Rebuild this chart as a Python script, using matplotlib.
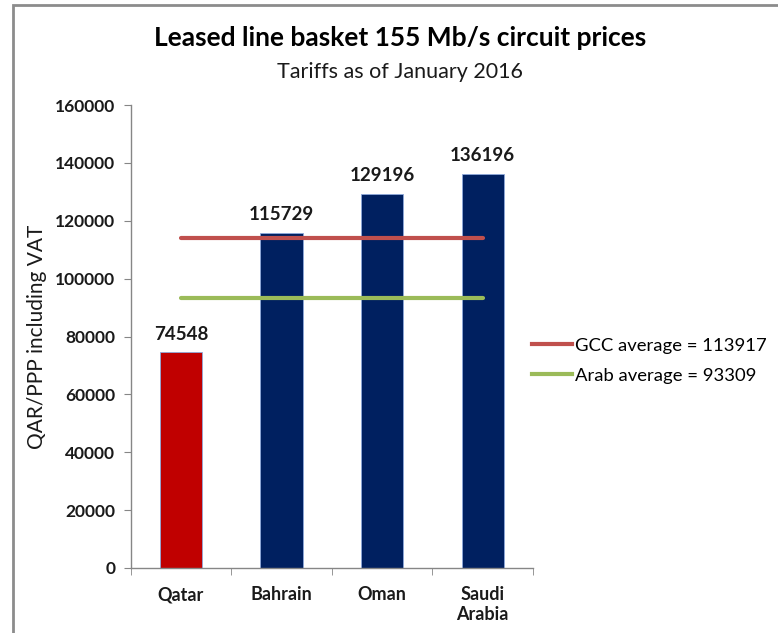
import matplotlib
matplotlib.use("Agg")
import matplotlib.pyplot as plt
from matplotlib.lines import Line2D
from matplotlib.patches import Rectangle
import numpy as np

countries = ["Qatar", "Bahrain", "Oman", "Saudi\nArabia"]
prices = [74548, 115729, 129196, 136196]
bar_colors = ["#C00000", "#002060", "#002060", "#002060"]
gcc_average = 113917
arab_average = 93309
yticks = [0, 20000, 40000, 60000, 80000, 100000, 120000, 140000, 160000]

plt.rcParams["font.family"] = ["Lato", "DejaVu Sans"]

fig = plt.figure(figsize=(7.78, 6.33), dpi=100)
ax = fig.add_axes([0.168, 0.1027, 0.517, 0.7313])

x = np.arange(len(countries))
ax.bar(x, prices, width=0.42, color=bar_colors, edgecolor="#8EA9DB", linewidth=0.6, zorder=2)
for xi, v in zip(x, prices):
    ax.annotate(str(v), (xi, v), xytext=(0, 7), textcoords="offset points",
                ha="center", va="bottom", fontsize=13.5, fontweight="bold", color="#1a1a1a")

ax.plot([x[0], x[-1]], [gcc_average] * 2, color="#C0504D", linewidth=3,
        solid_capstyle="round", zorder=3)
ax.plot([x[0], x[-1]], [arab_average] * 2, color="#9BBB59", linewidth=3,
        solid_capstyle="round", zorder=3)

ax.set_xlim(-0.5, len(countries) - 0.5)
ax.set_ylim(0, 160000)
ax.set_yticks(yticks)
ax.set_yticklabels([str(t) for t in yticks], fontsize=12.5, fontweight="bold", color="#1a1a1a")
ax.set_xticks(x)
ax.set_xticklabels(countries, fontsize=13, fontweight="bold", color="#1a1a1a")
ax.set_xticks(np.arange(-0.5, len(countries)), minor=True)
ax.tick_params(axis="x", which="major", length=0, pad=13)
ax.tick_params(axis="x", which="minor", length=5, color="#868686", direction="out")
ax.tick_params(axis="y", length=5, color="#868686", direction="out", pad=6)

for side in ["top", "right"]:
    ax.spines[side].set_visible(False)
for side in ["left", "bottom"]:
    ax.spines[side].set_color("#868686")
    ax.spines[side].set_linewidth(1)

ax.set_ylabel("QAR/PPP including VAT", fontsize=15, color="#1a1a1a", labelpad=6)

fig.text(0.514, 0.94, "Leased line basket 155 Mb/s circuit prices", ha="center", va="center",
         fontsize=19, fontweight="bold", color="#000000")
fig.text(0.514, 0.886, "Tariffs as of January 2016", ha="center", va="center",
         fontsize=15.5, color="#1a1a1a")

handles = [Line2D([], [], color="#C0504D", linewidth=3),
           Line2D([], [], color="#9BBB59", linewidth=3)]
fig.legend(handles, [f"GCC average = {gcc_average}", f"Arab average = {arab_average}"],
           loc="center left", bbox_to_anchor=(0.662, 0.43), frameon=False,
           fontsize=13.3, handlelength=2.2, handletextpad=0.15, labelspacing=0.75)

fig.patches.append(Rectangle((13 / 778, -0.1), 1.2, 1 - 5 / 633 + 0.1, transform=fig.transFigure,
                             fill=False, edgecolor="#8c8c8c", linewidth=2))

fig.savefig("out.png", dpi=100)
